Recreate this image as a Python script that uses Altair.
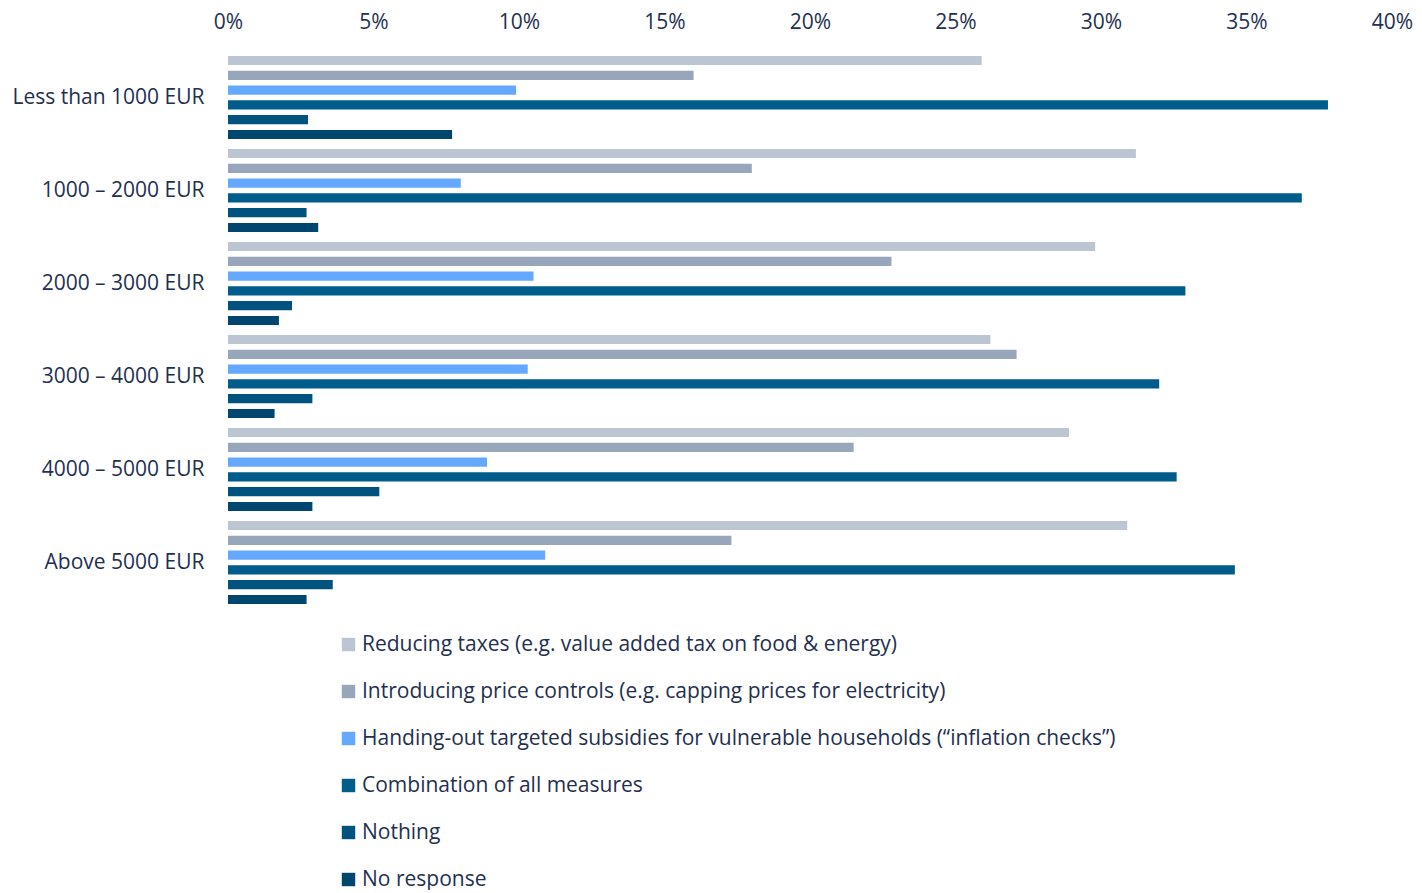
import altair as alt
import pandas as pd

groups = ["Less than 1000 EUR", "1000 – 2000 EUR", "2000 – 3000 EUR",
          "3000 – 4000 EUR", "4000 – 5000 EUR", "Above 5000 EUR"]
series = [
    "Reducing taxes (e.g. value added tax on food & energy)",
    "Introducing price controls (e.g. capping prices for electricity)",
    "Handing-out targeted subsidies for vulnerable households (“inflation checks”)",
    "Combination of all measures",
    "Nothing",
    "No response",
]
colors = ["#BCC6D2", "#98A6BC", "#64A8FF", "#005C8A", "#00537E", "#00466E"]

reducing_taxes = [25.9, 31.2, 29.8, 26.2, 28.9, 30.9]
price_controls = [16.0, 18.0, 22.8, 27.1, 21.5, 17.3]
subsidies = [9.9, 8.0, 10.5, 10.3, 8.9, 10.9]
combination = [37.8, 36.9, 32.9, 32.0, 32.6, 34.6]
nothing = [2.75, 2.7, 2.2, 2.9, 5.2, 3.6]
no_response = [7.7, 3.1, 1.75, 1.6, 2.9, 2.7]

values = [reducing_taxes, price_controls, subsidies, combination, nothing, no_response]
rows = []
for s, vals in zip(series, values):
    for g, v in zip(groups, vals):
        rows.append({"group": g, "series": s, "value": v / 100})
df = pd.DataFrame(rows)

font = "Open Sans"
text_color = "#1F3050"

chart = alt.Chart(df).mark_bar().encode(
    x=alt.X("value:Q",
            scale=alt.Scale(domain=[0, 0.4], nice=False),
            axis=alt.Axis(orient="top", format=".0%", values=[i * 0.05 for i in range(9)],
                          title=None, grid=False, domain=False, ticks=False,
                          labelFlush=False, labelOverlap=False,
                          labelFontSize=21, labelColor=text_color, labelFont=font,
                          labelPadding=19, minExtent=43, maxExtent=43)),
    y=alt.Y("group:N", sort=groups,
            scale=alt.Scale(paddingInner=0, paddingOuter=0),
            axis=alt.Axis(title=None, domain=False, ticks=False, labelFontSize=21,
                          labelColor=text_color, labelFont=font, labelPadding=24,
                          labelLimit=400, minExtent=220, maxExtent=220)),
    yOffset=alt.YOffset("series:N", sort=series,
                        scale=alt.Scale(paddingInner=0.38, paddingOuter=0.33)),
    color=alt.Color("series:N", sort=series,
                    scale=alt.Scale(domain=series, range=colors),
                    legend=alt.Legend(title=None, orient="none", legendX=110, legendY=583,
                                      direction="vertical", symbolType="square",
                                      symbolSize=180, symbolStrokeWidth=0,
                                      labelFontSize=21, labelColor=text_color,
                                      labelFont=font, rowPadding=25, labelLimit=900,
                                      labelOffset=3, symbolOpacity=1)),
).properties(
    width=1164, height=558, padding=0
).configure_view(stroke=None)

chart.save("out.html", embed_options={"renderer": "svg", "actions": False})
